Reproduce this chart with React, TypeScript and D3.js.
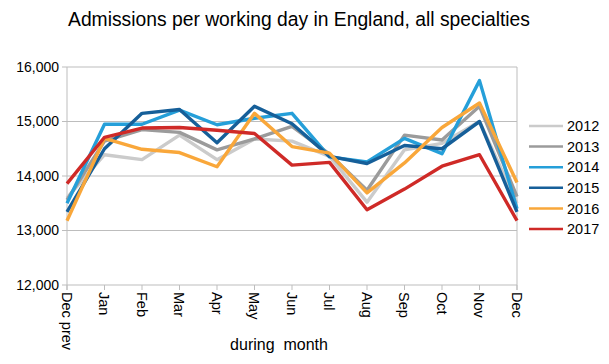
import React, { useRef, useEffect } from 'react';
import * as d3 from 'd3';

const months = ['Dec prev', 'Jan', 'Feb', 'Mar', 'Apr', 'May', 'Jun', 'Jul', 'Aug', 'Sep', 'Oct', 'Nov', 'Dec'];
const years = ['2012', '2013', '2014', '2015', '2016', '2017'];
const yTicks = [12000, 13000, 14000, 15000, 16000];

const s2012 = [13600, 14390, 14300, 14750, 14300, 14680, 14640, 14360, 13520, 14480, 14600, 15000, 13500];
const s2013 = [13560, 14640, 14850, 14800, 14480, 14680, 14910, 14400, 13740, 14750, 14660, 15280, 13620];
const s2014 = [13500, 14950, 14950, 15210, 14940, 15060, 15150, 14350, 14260, 14690, 14410, 15750, 13400];
const s2015 = [13340, 14500, 15150, 15220, 14610, 15280, 14960, 14360, 14230, 14560, 14500, 15000, 13340];
const s2016 = [13180, 14690, 14490, 14430, 14170, 15150, 14540, 14420, 13690, 14240, 14890, 15340, 13880];
const s2017 = [13860, 14710, 14880, 14890, 14840, 14780, 14200, 14250, 13380, 13760, 14180, 14390, 13180];

const series = [s2012, s2013, s2014, s2015, s2016, s2017];
const colors = ['#cbcbcb', '#9b9b9b', '#259fd9', '#165f99', '#f9a73a', '#cf2a27'];

const App = () => {
  const ref = useRef(null);
  useEffect(() => {
    const svg = d3.select(ref.current);
    svg.selectAll('*').remove();
    const font = '"Liberation Sans", Arial, Helvetica, sans-serif';

    const x = d3.scalePoint().domain(months).range([67, 517]);
    const y = d3.scaleLinear().domain([12000, 16000]).range([285, 67]);
    const grid = '#bdbdbd';

    svg.append('text').attr('x', 299).attr('y', 26).attr('text-anchor', 'middle')
      .style('font-family', font).style('font-size', '19.3px').style('fill', '#000')
      .text('Admissions per working day in England, all specialties');

    // gridlines + y labels
    yTicks.forEach((t) => {
      svg.append('line').attr('x1', 62).attr('x2', 517).attr('y1', y(t)).attr('y2', y(t))
        .attr('stroke', grid).attr('stroke-width', 1);
      svg.append('text').attr('x', 59).attr('y', y(t)).attr('dy', '0.35em').attr('text-anchor', 'end')
        .style('font-family', font).style('font-size', '14px').style('fill', '#000')
        .text(d3.format(',')(t));
    });
    // axes frame
    svg.append('line').attr('x1', 67).attr('x2', 67).attr('y1', 67).attr('y2', 290).attr('stroke', grid);
    svg.append('line').attr('x1', 517).attr('x2', 517).attr('y1', 67).attr('y2', 290).attr('stroke', grid);
    months.forEach((m) => {
      const px = x(m);
      svg.append('line').attr('x1', px).attr('x2', px).attr('y1', 285).attr('y2', 290).attr('stroke', grid);
      svg.append('text').attr('transform', `translate(${px},${292}) rotate(90)`)
        .attr('dy', '0.35em').attr('text-anchor', 'start')
        .style('font-family', font).style('font-size', '14.5px').style('fill', '#000')
        .text(m);
    });

    svg.append('text').attr('x', 279).attr('y', 350).attr('text-anchor', 'middle')
      .style('font-family', font).style('font-size', '16px').style('fill', '#000')
      .style('white-space', 'pre')
      .text('during  month');

    const line = d3.line().x((d, i) => x(months[i])).y((d) => y(d));
    series.forEach((s, i) => {
      svg.append('path').datum(s).attr('d', line).attr('fill', 'none')
        .attr('stroke', colors[i]).attr('stroke-width', 3.4).attr('stroke-linejoin', 'round');
    });

    // legend
    years.forEach((yr, i) => {
      const ly = 126 + i * 20.6;
      svg.append('line').attr('x1', 529).attr('x2', 563).attr('y1', ly).attr('y2', ly)
        .attr('stroke', colors[i]).attr('stroke-width', 2.5);
      svg.append('text').attr('x', 567).attr('y', ly).attr('dy', '0.36em')
        .style('font-family', font).style('font-size', '14.5px').style('fill', '#000').text(yr);
    });
  }, []);

  return <svg ref={ref} width={609} height={364} style={{ position: 'absolute', left: 0, top: 0, background: '#fff' }} />;
};

export default App;
